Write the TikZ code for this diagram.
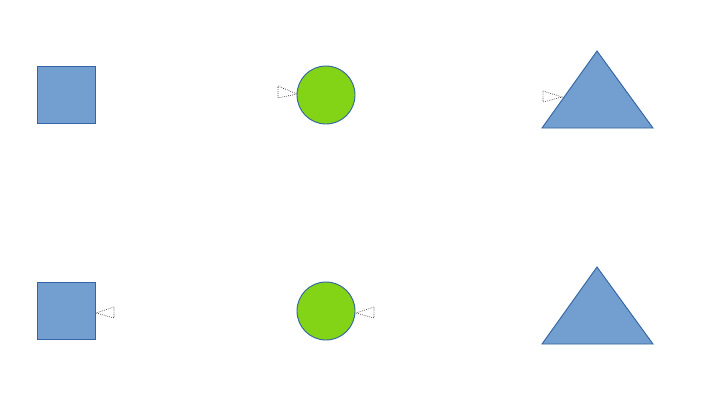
\documentclass[tikz,border=0pt]{standalone}
\usetikzlibrary{calc}
\definecolor{shapeblue}{RGB}{114,159,207}
\definecolor{edgeblue}{RGB}{52,101,164}
\definecolor{shapegreen}{RGB}{131,211,23}
\tikzset{
  sq/.style={fill=shapeblue,draw=edgeblue,line width=0.75pt},
  circ/.style={fill=shapegreen,draw=edgeblue,line width=0.7pt},
  tri/.style={fill=shapeblue,draw=edgeblue,line width=0.7pt,line join=miter},
  marker/.style={draw=black,densely dotted,line width=0.45pt},
}
\begin{document}
\begin{tikzpicture}[x=0.75pt,y=-0.75pt]
\useasboundingbox (0,0) rectangle (705,419);
% top row
\draw[sq] (37,66) rectangle (95,123);
\draw[circ] (326,95) circle (29);
\draw[tri] (597,51) -- (653,128) -- (542,128) -- cycle;
\draw[marker] (278,86) -- (297,94) -- (278,98) -- cycle;
\draw[marker] (543,91) -- (562,97) -- (543,102) -- cycle;
% bottom row
\draw[sq] (37,282) rectangle (95,339);
\draw[circ] (326,311) circle (29);
\draw[tri] (597,267) -- (653,344) -- (542,344) -- cycle;
\draw[marker] (114,307) -- (96,313) -- (114,318) -- cycle;
\draw[marker] (374,307) -- (356,313) -- (374,318) -- cycle;
\end{tikzpicture}
\end{document}
